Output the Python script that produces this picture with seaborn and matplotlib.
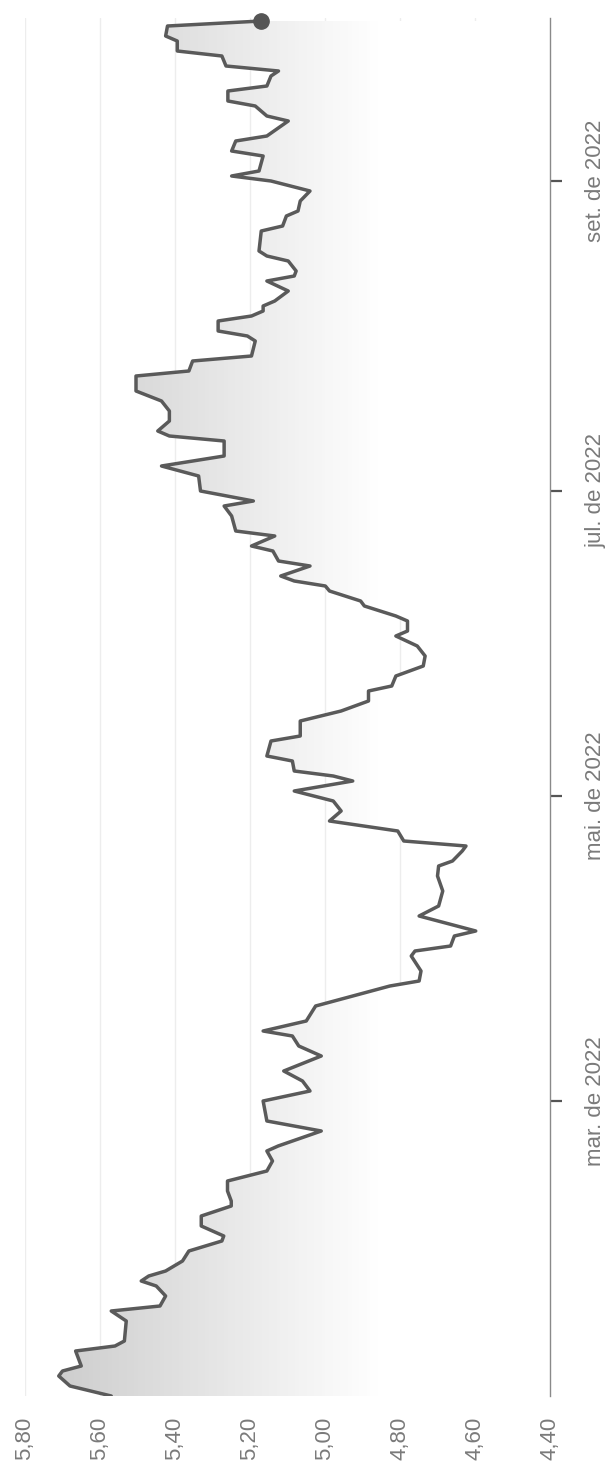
import numpy as np
import pandas as pd
import matplotlib
matplotlib.use("Agg")
import matplotlib.pyplot as plt
import matplotlib.dates as mdates
import seaborn as sns

# ---------------- data ----------------
dates = [
    "2022-01-01", "2022-01-03", "2022-01-05", "2022-01-06", "2022-01-07", "2022-01-10",
    "2022-01-11", "2022-01-12", "2022-01-16", "2022-01-18", "2022-01-19", "2022-01-21",
    "2022-01-23", "2022-01-24", "2022-01-25", "2022-01-26", "2022-01-28", "2022-01-30",
    "2022-02-01", "2022-02-02", "2022-02-04", "2022-02-06", "2022-02-08", "2022-02-09",
    "2022-02-11", "2022-02-13", "2022-02-15", "2022-02-17", "2022-02-19", "2022-02-20",
    "2022-02-23", "2022-02-25", "2022-03-01", "2022-03-03", "2022-03-05", "2022-03-07",
    "2022-03-10", "2022-03-11", "2022-03-12", "2022-03-14", "2022-03-15", "2022-03-17",
    "2022-03-20", "2022-03-22", "2022-03-24", "2022-03-25", "2022-03-27", "2022-03-30",
    "2022-03-31", "2022-04-01", "2022-04-03", "2022-04-04", "2022-04-07", "2022-04-09",
    "2022-04-12", "2022-04-15", "2022-04-17", "2022-04-18", "2022-04-20", "2022-04-21",
    "2022-04-22", "2022-04-24", "2022-04-26", "2022-04-28", "2022-04-30", "2022-05-02",
    "2022-05-04", "2022-05-05", "2022-05-06", "2022-05-08", "2022-05-09", "2022-05-12",
    "2022-05-13", "2022-05-16", "2022-05-18", "2022-05-20", "2022-05-22", "2022-05-23",
    "2022-05-25", "2022-05-27", "2022-05-29", "2022-05-31", "2022-06-02", "2022-06-03",
    "2022-06-05", "2022-06-06", "2022-06-08", "2022-06-09", "2022-06-11", "2022-06-12",
    "2022-06-13", "2022-06-14", "2022-06-16", "2022-06-17", "2022-06-19", "2022-06-20",
    "2022-06-22", "2022-06-23", "2022-06-26", "2022-06-28", "2022-06-29", "2022-07-01",
    "2022-07-04", "2022-07-06", "2022-07-08", "2022-07-11", "2022-07-12", "2022-07-13",
    "2022-07-15", "2022-07-17", "2022-07-19", "2022-07-21", "2022-07-24", "2022-07-25",
    "2022-07-27", "2022-07-28", "2022-07-31", "2022-08-01", "2022-08-02", "2022-08-04",
    "2022-08-05", "2022-08-06", "2022-08-07", "2022-08-08", "2022-08-10", "2022-08-12",
    "2022-08-13", "2022-08-14", "2022-08-16", "2022-08-17", "2022-08-18", "2022-08-22",
    "2022-08-23", "2022-08-25", "2022-08-26", "2022-08-28", "2022-08-30", "2022-09-01",
    "2022-09-02", "2022-09-03", "2022-09-06", "2022-09-07", "2022-09-09", "2022-09-10",
    "2022-09-13", "2022-09-14", "2022-09-16", "2022-09-17", "2022-09-19", "2022-09-20",
    "2022-09-22", "2022-09-23", "2022-09-24", "2022-09-26", "2022-09-27", "2022-09-29",
    "2022-09-30", "2022-10-02", "2022-10-03",
]
rates = [
    5.57, 5.68, 5.71, 5.70, 5.65, 5.665,
    5.56, 5.535, 5.53, 5.57, 5.44, 5.425,
    5.45, 5.49, 5.47, 5.425, 5.38, 5.363,
    5.275, 5.27, 5.33, 5.33, 5.25, 5.25,
    5.26, 5.26, 5.155, 5.14, 5.155, 5.125,
    5.01, 5.155, 5.165, 5.04, 5.06, 5.11,
    5.01, 5.04, 5.07, 5.087, 5.165, 5.05,
    5.025, 4.926, 4.827, 4.749, 4.744, 4.77,
    4.76, 4.665, 4.655, 4.598, 4.749, 4.697,
    4.686, 4.70, 4.697, 4.66, 4.634, 4.624,
    4.79, 4.806, 4.988, 4.957, 4.978, 5.082,
    4.926, 4.978, 5.082, 5.087, 5.155, 5.144,
    5.066, 5.066, 4.957, 4.884, 4.884, 4.822,
    4.811, 4.738, 4.733, 4.754, 4.811, 4.78,
    4.78, 4.811, 4.895, 4.905, 4.988, 4.999,
    5.082, 5.118, 5.04, 5.124, 5.139, 5.196,
    5.134, 5.238, 5.249, 5.269, 5.191, 5.332,
    5.337, 5.436, 5.269, 5.269, 5.415, 5.446,
    5.415, 5.415, 5.436, 5.504, 5.504, 5.363,
    5.353, 5.196, 5.186, 5.207, 5.285, 5.285,
    5.196, 5.165, 5.165, 5.134, 5.098, 5.155,
    5.082, 5.077, 5.098, 5.155, 5.176, 5.17,
    5.113, 5.103, 5.072, 5.066, 5.04, 5.144,
    5.249, 5.176, 5.165, 5.249, 5.238, 5.155,
    5.098, 5.155, 5.186, 5.259, 5.259, 5.155,
    5.144, 5.124, 5.264, 5.275, 5.394, 5.394,
    5.425, 5.42, 5.17,
]

value_ticks = [5.80, 5.60, 5.40, 5.20, 5.00, 4.80, 4.60, 4.40]
value_tick_labels = ["5,80", "5,60", "5,40", "5,20", "5,00", "4,80", "4,60", "4,40"]
date_ticks = ["2022-03-01", "2022-05-01", "2022-07-01", "2022-09-01"]
date_tick_labels = ["mar. de 2022", "mai. de 2022", "jul. de 2022", "set. de 2022"]

# ---------------- figure ----------------
sns.set_theme(style="white")
plt.rcParams["font.family"] = ["Liberation Sans", "DejaVu Sans"]

W, H = 607, 1473
fig = plt.figure(figsize=(W / 100, H / 100), dpi=100)
fig.patch.set_facecolor("white")
left_px, right_px, top_px, bottom_px = 25, 550, 18, 1396
ax = fig.add_axes([left_px / W, (H - bottom_px) / H,
                   (right_px - left_px) / W, (bottom_px - top_px) / H])
ax.set_facecolor("white")

df = pd.DataFrame({"date": pd.to_datetime(dates), "rate": rates})
ynum = np.asarray(mdates.date2num(df["date"]), dtype=float)
xval = df["rate"].to_numpy(dtype=float)

y0 = float(mdates.date2num(pd.Timestamp("2022-01-01")))
y1 = y0 + 275.6

# line (seaborn)
sns.lineplot(data=df, x="rate", y="date", orient="y", estimator=None, sort=False,
             color="#5a5a5a", lw=2.5, ax=ax, zorder=3,
             solid_joinstyle="round", solid_capstyle="round")

# gradient fill between the line and the 4.40 baseline:
# layered bands, each overwriting the part of the area left of its threshold
yd = np.linspace(ynum[0], ynum[-1], 6000)
xd = np.interp(yd, ynum, xval)          # same piecewise-linear line, finer sampling
base = value_ticks[-1]
thresholds = np.arange(base, value_ticks[0], 0.01)
for a in thresholds:
    g = np.clip(255 - 58 * (a + 0.005 - 4.85), 0, 255) / 255.0
    if g >= 0.999 and a > base:
        continue
    ax.fill_betweenx(yd, a, np.maximum(xd, a), facecolor=(g, g, g),
                     edgecolor="none", linewidth=0, antialiased=False, zorder=1)

# gridlines
for v in value_ticks[:-1]:
    ax.axvline(v, color="#ededed", lw=1.0, zorder=0.5)

# last-point marker
ax.plot([xval[-1]], [ynum[-1]], "o", color="#555555", ms=11, zorder=4, clip_on=False)

ax.set_xlim(value_ticks[0], value_ticks[-1])
ax.set_ylim(y0, y1)

# spines
for s in ["left", "top", "bottom"]:
    ax.spines[s].set_visible(False)
ax.spines["right"].set_visible(True)
ax.spines["right"].set_color("#8a8a8a")
ax.spines["right"].set_linewidth(1.0)

# value ticks (bottom, rotated)
ax.set_xticks(value_ticks)
ax.set_xticklabels(value_tick_labels, rotation=90, color="#7a7a7a", fontsize=16)
ax.tick_params(axis="x", length=0, pad=15, bottom=True)

# date ticks (right, rotated)
ax.yaxis.tick_right()
ax.set_yticks(mdates.date2num(pd.to_datetime(date_ticks)))
ax.set_yticklabels(date_tick_labels, rotation=90, color="#7a7a7a", fontsize=16,
                   va="center")
ax.tick_params(axis="y", length=8.5, width=1.6, color="#555555", pad=17, right=True)

ax.set_xlabel("")
ax.set_ylabel("")
ax.grid(False)

fig.savefig("out.png", dpi=100, facecolor="white")
